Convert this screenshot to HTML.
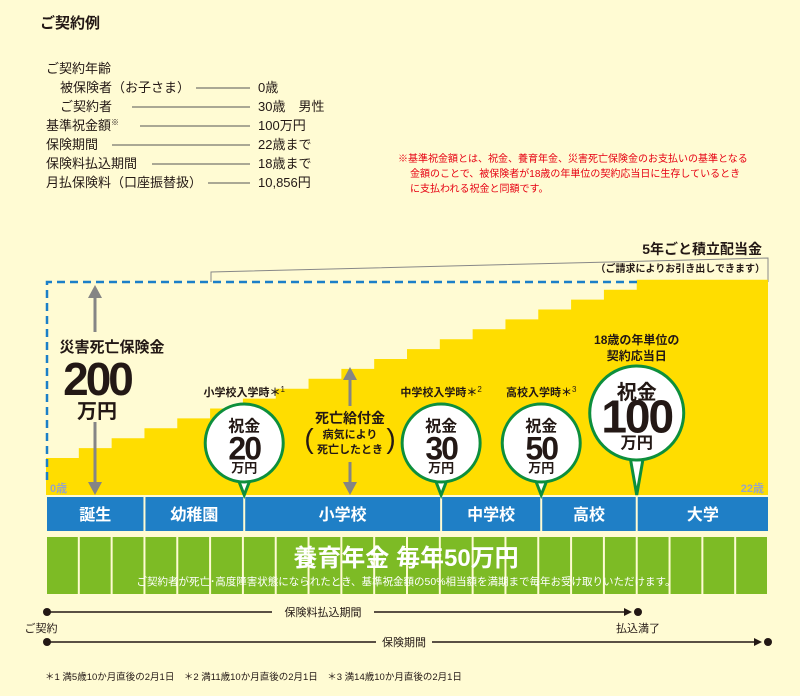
<!DOCTYPE html>
<html><head><meta charset="utf-8">
<style>
body{margin:0;background:#fffbd3;}
svg{display:block;font-family:"Liberation Sans","Noto Sans CJK JP",sans-serif;}
</style></head>
<body>
<svg width="800" height="696" viewBox="0 0 800 696">
<rect width="800" height="696" fill="#fffbd3"/>
<g font-size="13" fill="#231815">
<text x="40" y="28" font-size="15" font-weight="bold">ご契約例</text>
<text x="46" y="73">ご契約年齢</text>
<text x="60" y="92">被保険者（お子さま）</text><line x1="196" y1="88" x2="250" y2="88" stroke="#555"/><text x="258" y="92">0歳</text>
<text x="60" y="111">ご契約者</text><line x1="132" y1="107" x2="250" y2="107" stroke="#555"/><text x="258" y="111">30歳　男性</text>
<text x="46" y="130">基準祝金額<tspan font-size="8" dy="-5">※</tspan></text><line x1="140" y1="126" x2="250" y2="126" stroke="#555"/><text x="258" y="130">100万円</text>
<text x="46" y="149">保険期間</text><line x1="112" y1="145" x2="250" y2="145" stroke="#555"/><text x="258" y="149">22歳まで</text>
<text x="46" y="168">保険料払込期間</text><line x1="152" y1="164" x2="250" y2="164" stroke="#555"/><text x="258" y="168">18歳まで</text>
<text x="46" y="187">月払保険料（口座振替扱）</text><line x1="208" y1="183" x2="250" y2="183" stroke="#555"/><text x="258" y="187">10,856円</text>
</g>
<g font-size="10" fill="#e60012">
<text x="398" y="162">※基準祝金額とは、祝金、養育年金、災害死亡保険金のお支払いの基準となる</text>
<text x="410" y="177">金額のことで、被保険者が18歳の年単位の契約応当日に生存しているとき</text>
<text x="410" y="192">に支払われる祝金と同額です。</text>
</g>
<polyline points="211,282 211,272 768,258 768,282" fill="none" stroke="#888" stroke-width="1"/>
<text x="762" y="254" text-anchor="end" font-size="14" font-weight="bold" fill="#231815">5年ごと積立配当金</text>
<text x="765" y="272" text-anchor="end" font-size="10" font-weight="bold" fill="#231815">（ご請求によりお引き出しできます）</text>
<g id="steps"></g>
<path d="M47,480 V282 H637" fill="none" stroke="#1b7fc8" stroke-width="2.5" stroke-dasharray="8,5"/>
<text x="50" y="492" font-size="11" font-weight="bold" fill="#9aa6c0">0歳</text>
<text x="764" y="492" text-anchor="end" font-size="11" font-weight="bold" fill="#9aa6c0">22歳</text>
<g fill="#858585" stroke="#858585" stroke-width="3">
<line x1="95" y1="296" x2="95" y2="332"/><polygon points="88,298 102,298 95,285" stroke="none"/>
<line x1="95" y1="422" x2="95" y2="484"/><polygon points="88,482 102,482 95,495" stroke="none"/>
</g>
<g text-anchor="middle" fill="#231815" font-weight="bold">
<text x="112" y="352" font-size="15">災害死亡保険金</text>
<text x="97" y="395" font-size="46" letter-spacing="-3">200</text>
<text x="97" y="418" font-size="20">万円</text>
</g>
<g fill="#858585" stroke="#858585" stroke-width="3">
<line x1="350" y1="378" x2="350" y2="406"/><polygon points="343,380 357,380 350,367" stroke="none"/>
<line x1="350" y1="462" x2="350" y2="484"/><polygon points="343,482 357,482 350,495" stroke="none"/>
</g>
<g text-anchor="middle" fill="#231815" font-weight="bold">
<text x="350" y="423" font-size="14">死亡給付金</text>
<text x="350" y="438" font-size="11">病気により</text>
<text x="350" y="453" font-size="11">死亡したとき</text>
<text x="309" y="448" font-size="28" font-weight="normal">(</text>
<text x="391" y="448" font-size="28" font-weight="normal">)</text>
</g>
<g id="bubbles"></g>
<g id="stages"></g>
<g id="pension"></g>
<text x="406" y="566" text-anchor="middle" font-size="24" font-weight="bold" fill="#fff">養育年金 毎年50万円</text>
<text x="406" y="585" text-anchor="middle" font-size="10.5" fill="#fff">ご契約者が死亡･高度障害状態になられたとき、基準祝金額の50%相当額を満期まで毎年お受け取りいただけます。</text>
<g fill="#231815" stroke="#231815">
<line x1="47" y1="612" x2="272" y2="612" stroke-width="1.5"/><line x1="374" y1="612" x2="628" y2="612" stroke-width="1.5"/>
<circle cx="47" cy="612" r="4" stroke="none"/><circle cx="638" cy="612" r="4" stroke="none"/><polygon points="624,608 632,612 624,616" stroke="none"/>
<text x="323" y="616" text-anchor="middle" font-size="11" stroke="none">保険料払込期間</text>
</g>
<text x="41" y="632" text-anchor="middle" font-size="11" fill="#231815">ご契約</text>
<text x="638" y="632" text-anchor="middle" font-size="11" fill="#231815">払込満了</text>
<g fill="#231815" stroke="#231815">
<line x1="47" y1="642" x2="376" y2="642" stroke-width="1.5"/><line x1="432" y1="642" x2="758" y2="642" stroke-width="1.5"/>
<circle cx="47" cy="642" r="4" stroke="none"/><circle cx="768" cy="642" r="4" stroke="none"/><polygon points="754,638 762,642 754,646" stroke="none"/>
<text x="404" y="646" text-anchor="middle" font-size="11" stroke="none">保険期間</text>
</g>
<text x="45" y="680" font-size="9.5" fill="#231815">＊1 満5歳10か月直後の2月1日　＊2 満11歳10か月直後の2月1日　＊3 満14歳10か月直後の2月1日</text>
</svg>
<script>
const stepLevels=[1,2,3,4,5,6,7,8,9,10,11,12,13,14,15,16,17,18,19,19,19,19];
const stageNames=['誕生','幼稚園','小学校','中学校','高校','大学'];
const stageStarts=[0,3,6.04,12.04,15.09,18];
const bubbleAges=[6.04,12.04,15.09,18];
const bubbleAmounts=['20','30','50','100'];
const bubbleLabels=['小学校入学時','中学校入学時','高校入学時',''];
const bubbleMarks=['1','2','3',''];
const years=22;
const NS='http://www.w3.org/2000/svg';
const X0=46,X1=768;
function xs(a){return X0+a*(X1-X0)/years;}
function ys(v){return 467.9-9.9*v;}
function mk(t,attrs,parent){const e=document.createElementNS(NS,t);for(const k in attrs)e.setAttribute(k,attrs[k]);parent.appendChild(e);return e;}
const st=document.getElementById('steps');
let d='M'+xs(0)+',495';
stepLevels.forEach((v,i)=>{d+=' L'+xs(i)+','+ys(v)+' L'+xs(i+1)+','+ys(v);});
d+=' L'+xs(years)+',495 Z';
const sp=mk('path',{d:d,fill:'#ffdd00'},st);


const sg=document.getElementById('stages');
stageNames.forEach((n,i)=>{
 const a=xs(stageStarts[i]),b=i<stageNames.length-1?xs(stageStarts[i+1]):X1+1;
 const r=mk('rect',{x:a+1,y:497,width:b-a-2,height:34,fill:'#1f7fc6'},sg);
 
 
 const t=mk('text',{x:(a+b)/2,y:520,'text-anchor':'middle','font-size':16,'font-weight':'bold',fill:'#fff'},sg);
 t.textContent=n;
});
const pg=document.getElementById('pension');
for(let i=0;i<years;i++){
 const r=mk('rect',{x:xs(i)+1,y:537,width:(X1-X0)/years-2,height:57,fill:'#7dbb25'},pg);
 
 
}
const bg=document.getElementById('bubbles');
bubbleAges.forEach((a,i)=>{
 const cx=xs(a),big=i===3,r=big?47:39,cy=big?413:443;
 const g=mk('g',{},bg);
 
 
 const tipTop=cy+r-5;
 mk('path',{d:`M${cx-7},${tipTop} L${cx},495 L${cx+7},${tipTop} Z`,fill:'#fff',stroke:'#0d8f3c','stroke-width':3},g);
 mk('circle',{cx:cx,cy:cy,r:r,fill:'#fff',stroke:'#0d8f3c','stroke-width':3},g);
 mk('rect',{x:cx-6,y:tipTop-4,width:12,height:7,fill:'#fff'},g);
 const s=big?1.25:1;
 mk('text',{x:cx,y:cy-r*0.3,'text-anchor':'middle','font-size':16*s,'font-weight':'bold',fill:'#231815'},g).textContent='祝金';
 mk('text',{x:cx,y:cy+r*0.42,'text-anchor':'middle','font-size':big?46:32,'font-weight':'bold',fill:'#231815','letter-spacing':-2},g).textContent=bubbleAmounts[i];
 mk('text',{x:cx,y:cy+r*0.75,'text-anchor':'middle','font-size':13*s,'font-weight':'bold',fill:'#231815'},g).textContent='万円';
 if(bubbleLabels[i]){
  const t=mk('text',{x:cx,y:cy-r-8,'text-anchor':'middle','font-size':11,'font-weight':'bold',fill:'#231815'},g);
  t.textContent=bubbleLabels[i]+'＊';
  const m=mk('tspan',{'font-size':8,dy:-4,'font-weight':'normal'},t);m.textContent=bubbleMarks[i];
 }else{
  mk('text',{x:cx,y:cy-r-22,'text-anchor':'middle','font-size':12,'font-weight':'bold',fill:'#231815'},g).textContent='18歳の年単位の';
  mk('text',{x:cx,y:cy-r-6,'text-anchor':'middle','font-size':12,'font-weight':'bold',fill:'#231815'},g).textContent='契約応当日';
 }
});
</script>
</body></html>
